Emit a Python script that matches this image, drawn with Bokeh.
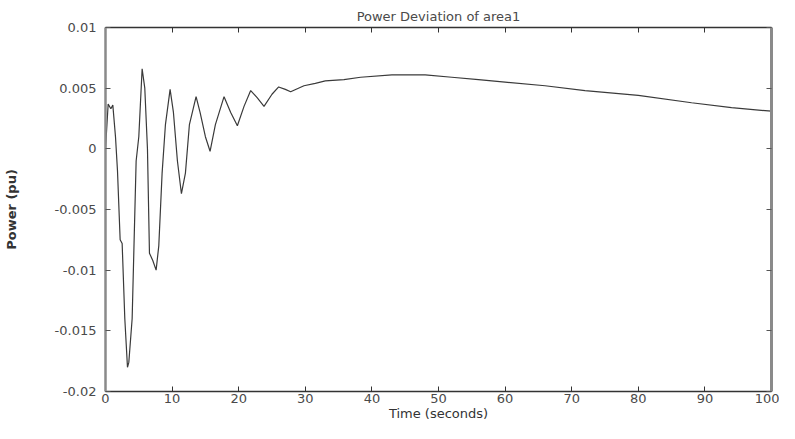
from bokeh.plotting import figure
from bokeh.models import LinearAxis, FixedTicker, Range1d
from bokeh.embed import file_html
from bokeh.resources import INLINE

# ---- data ----
time_s = [0.0, 0.4, 0.8, 1.1, 1.5, 1.8, 2.2, 2.5, 2.9, 3.3, 3.5, 4.0, 4.6, 5.0,
          5.5, 5.9, 6.3, 6.6, 7.1, 7.6, 8.0, 8.5, 9.0, 9.7, 10.2, 10.8, 11.4,
          12.0, 12.6, 13.6, 14.2, 15.0, 15.7, 16.5, 17.8, 18.8, 19.8, 20.8,
          21.8, 22.8, 23.8, 25.0, 26.0, 27.0, 27.8, 29.8, 31.5, 33.0, 35.8,
          38.3, 43.0, 48.0, 52.0, 56.0, 60.0, 66.0, 72.0, 80.0, 88.0, 94.0, 100.0]
power_pu = [0.0, 0.0037, 0.0033, 0.0036, 0.0010, -0.0018, -0.0075, -0.0078,
            -0.0140, -0.0180, -0.0176, -0.0140, -0.0010, 0.0010,
            0.0066, 0.0050, 0.0000, -0.0086, -0.0092, -0.0100, -0.0080, -0.0020,
            0.0020, 0.0049, 0.0030, -0.0010, -0.0037,
            -0.0020, 0.0020, 0.0043, 0.0030, 0.0010, -0.0002, 0.0020, 0.0043,
            0.0030, 0.0019, 0.0035,
            0.0048, 0.0042, 0.0035, 0.0045, 0.0051, 0.0049, 0.0047, 0.0052,
            0.0054, 0.0056, 0.0057,
            0.0059, 0.0061, 0.0061, 0.0059, 0.0057, 0.0055, 0.0052, 0.0048,
            0.0044, 0.0038, 0.0034, 0.0031]

x_ticks = [0, 10, 20, 30, 40, 50, 60, 70, 80, 90, 100]
y_ticks = [-0.02, -0.015, -0.01, -0.005, 0, 0.005, 0.01]
y_tick_labels = ["-0.02", "-0.015", "-0.01", "-0.005", "0", "0.005", "0.01"]

title_text = "Power Deviation of area1"
x_label = "Time (seconds)"
y_label = "Power (pu)"

FONT = "DejaVu Sans"
TXT = "#4a4a4a"

p = figure(width=779, height=423, output_backend="svg", toolbar_location=None,
           x_range=Range1d(0, 100), y_range=Range1d(-0.02, 0.01),
           min_border_left=103, min_border_right=8, min_border_top=27,
           min_border_bottom=32, title=title_text)

p.title.align = "center"
p.title.text_font = FONT
p.title.text_font_size = "13px"
p.title.text_font_style = "normal"
p.title.text_color = TXT
p.title.standoff = 8
p.title.offset = 0

p.xgrid.visible = False
p.ygrid.visible = False
p.outline_line_color = None
p.background_fill_color = "white"
p.border_fill_color = "white"

xa = p.xaxis[0]
ya = p.yaxis[0]

xa.ticker = FixedTicker(ticks=x_ticks)
ya.ticker = FixedTicker(ticks=y_ticks)
ya.major_label_overrides = {v: s for v, s in zip(y_ticks, y_tick_labels)}

for ax in (xa, ya):
    ax.major_tick_in = 5
    ax.major_tick_out = 0
    ax.minor_tick_line_color = None
    ax.major_label_text_font = FONT
    ax.major_label_text_font_size = "13px"
    ax.major_label_text_color = TXT
    ax.axis_label_text_font = FONT
    ax.axis_label_text_color = "#333333"

xa.axis_line_color = "#333333"
xa.axis_line_width = 1.5
xa.major_tick_line_color = "#333333"
xa.major_label_standoff = 2
xa.axis_label = x_label
xa.axis_label_text_font_size = "13px"
xa.axis_label_text_font_style = "normal"
xa.axis_label_standoff = 0

ya.axis_line_color = "#8a8a8a"
ya.axis_line_width = 2.5
ya.major_tick_line_color = "#555555"
ya.major_label_standoff = 9
ya.axis_label = y_label
ya.axis_label_text_font_size = "13px"
ya.axis_label_text_font_style = "bold"
ya.axis_label_standoff = 33

blank_x = {v: "" for v in x_ticks}
blank_y = {v: "" for v in y_ticks}
top = LinearAxis(ticker=FixedTicker(ticks=x_ticks), major_label_overrides=blank_x,
                 major_tick_in=5, major_tick_out=0, minor_tick_line_color=None,
                 axis_line_color="#333333", axis_line_width=1.5,
                 major_tick_line_color="#333333", major_label_standoff=0)
right = LinearAxis(ticker=FixedTicker(ticks=y_ticks), major_label_overrides=blank_y,
                   major_tick_in=5, major_tick_out=0, minor_tick_line_color=None,
                   axis_line_color="#8a8a8a", axis_line_width=3,
                   major_tick_line_color="#555555", major_label_standoff=0)
p.add_layout(top, "above")
p.add_layout(right, "right")

p.line(time_s, power_pu, line_color="#3a3a3a", line_width=1.2)

open("out.html", "w").write(file_html(p, INLINE))
